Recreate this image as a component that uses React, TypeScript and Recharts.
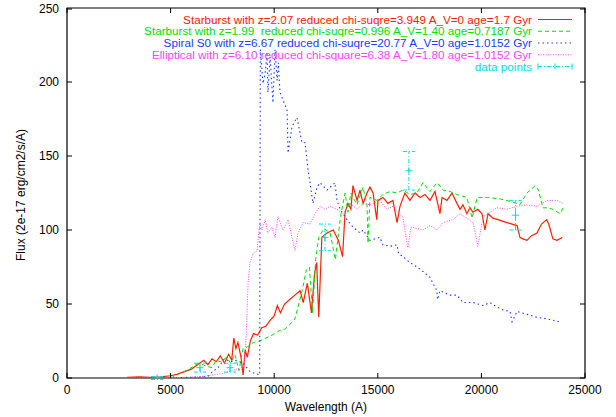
import React from 'react';
import { ComposedChart, Line, Scatter, XAxis, YAxis, ErrorBar, ReferenceArea, Legend } from 'recharts';

// ---------- data ----------
const X_TICKS = [0, 5000, 10000, 15000, 20000, 25000];
const Y_TICKS = [0, 50, 100, 150, 200, 250];

// [wavelength (A), flux]
const STARBURST_207: [number, number][] = [
  [2900, 0.5], [3500, 0.8], [4000, 0.5], [4500, 0.8], [5000, 1.5], [5300, 2.5], [5600, 4], [6000, 6], [6200, 8], [6400, 10],
  [6600, 12], [6800, 9], [7000, 13], [7200, 11], [7400, 15], [7600, 10], [7800, 16], [7950, 12], [8050, 27], [8150, 20],
  [8250, 24], [8400, 14], [8500, 2], [8600, 19], [8700, 14], [8850, 25], [9000, 30], [9200, 29], [9400, 34], [9600, 35],
  [9800, 39], [10000, 42], [10150, 49], [10300, 44], [10500, 50], [10750, 53], [11000, 56], [11250, 59], [11400, 51], [11600, 64],
  [11800, 44], [11950, 71], [12050, 78], [12150, 41], [12300, 95], [12550, 98], [12850, 100], [13100, 93], [13300, 82], [13420, 112],
  [13560, 118], [13700, 114], [13800, 130], [14000, 120], [14140, 127], [14290, 118], [14480, 125], [14620, 129], [14770, 125], [14950, 107],
  [15010, 120], [15250, 122], [15490, 118], [15730, 120], [15930, 105], [16070, 116], [16310, 125], [16550, 120], [16800, 125], [17040, 122],
  [17280, 124], [17520, 120], [17760, 126], [18000, 111], [18100, 122], [18340, 120], [18580, 125], [18820, 118], [18970, 114], [19110, 117],
  [19300, 111], [19450, 115], [19590, 112], [19830, 114], [20030, 111], [20170, 100], [20320, 111], [20560, 108], [20800, 107], [21230, 105],
  [21480, 104], [21720, 103], [21860, 95], [22000, 94], [22200, 93], [22400, 96], [22680, 98], [22900, 104], [23150, 107], [23250, 104],
  [23450, 94], [23650, 93], [23900, 95],
];

const STARBURST_199: [number, number][] = [
  [5000, 0], [5300, 2], [5600, 4], [5900, 6], [6200, 9], [6400, 10], [6700, 8], [7000, 7], [7200, 12], [7400, 11],
  [7700, 14], [7900, 10], [8100, 16], [8300, 5], [8500, 20], [8700, 21], [9000, 24], [9300, 25], [9600, 27], [9900, 29],
  [10250, 32], [10500, 33], [10750, 36], [11000, 40], [11150, 48], [11350, 59], [11550, 73], [11700, 75], [11850, 44], [12000, 80],
  [12150, 95], [12400, 101], [12700, 98], [12950, 80], [13200, 109], [13420, 125], [13560, 112], [13700, 125], [13995, 117], [14285, 129],
  [14480, 117], [14530, 91], [14620, 122], [14960, 120], [15250, 124], [15590, 126], [15930, 125], [16220, 127], [16550, 124], [16890, 125],
  [17180, 132], [17520, 126], [17860, 132], [18150, 127], [18500, 126], [18800, 124], [19050, 123], [19300, 122], [19550, 108], [19800, 122],
  [20300, 122], [20900, 121], [21500, 119], [21850, 117], [22200, 125], [22600, 130], [22750, 127], [22970, 115], [23200, 115], [23450, 114],
  [23800, 111], [23940, 115],
];

const SPIRAL_S0: [number, number][] = [
  [2900, 0], [4000, 0], [5000, 0], [6000, 0.5], [6500, 0.8], [6800, 1], [7000, 4], [7300, 7], [7600, 13], [7900, 11],
  [8200, 12], [8500, 10], [8850, 4], [9100, 3], [9300, 2], [9330, 222], [9400, 210], [9460, 199], [9560, 205], [9650, 220],
  [9700, 193], [9800, 217], [9940, 186], [10040, 222], [10140, 201], [10200, 213], [10280, 193], [10420, 188], [10620, 181], [10670, 152],
  [10860, 170], [11100, 176], [11340, 159], [11490, 159], [11630, 141], [11730, 132], [11870, 118], [12070, 129], [12210, 132], [12550, 127],
  [12790, 130], [12930, 132], [13030, 120], [13180, 114], [13510, 107], [13800, 102], [14140, 98], [14290, 100], [14620, 93], [15100, 95],
  [15250, 90], [15590, 89], [15930, 90], [16000, 84], [16220, 82], [16550, 78], [16890, 75], [17180, 72], [17520, 68], [17660, 64],
  [17850, 59], [17880, 53], [18000, 59], [18480, 56], [18820, 56], [19110, 51], [19590, 51], [20080, 49], [20410, 51], [20750, 48],
  [21040, 46], [21380, 45], [21480, 38], [21720, 45], [22200, 43], [22680, 41], [23170, 40], [23790, 38],
];

const ELLIPTICAL: [number, number][] = [
  [2900, 0], [4000, 0], [5000, 0.3], [6000, 0.5], [6500, 1], [7000, 2], [7500, 3], [8000, 5], [8400, 7], [8550, 8],
  [8650, 30], [8740, 64], [8830, 78], [8980, 84], [9170, 86], [9310, 105], [9410, 100], [9560, 107], [9700, 98], [9890, 102],
  [10040, 95], [10180, 109], [10420, 100], [10670, 107], [11000, 86], [11150, 98], [11390, 105], [11730, 104], [11970, 111], [12210, 116],
  [12450, 114], [12690, 116], [13030, 114], [13320, 111], [13660, 118], [14000, 114], [14290, 118], [14620, 117], [15100, 120], [15440, 114],
  [15730, 116], [15950, 112], [16200, 109], [16450, 88], [16600, 102], [16900, 101], [17180, 100], [17520, 103], [17860, 100], [18150, 105],
  [18630, 107], [18970, 111], [19300, 108], [19600, 105], [19830, 89], [20080, 109], [20410, 112], [20750, 115], [21230, 114], [21720, 116],
  [22200, 117], [22680, 116], [23170, 120], [23650, 120], [23940, 118],
];

// [wavelength, flux, error]
const DATA_POINTS: [number, number, number][] = [
  [4350, 0, 1], [6420, 7, 3], [7870, 7, 3], [12450, 95, 9], [16500, 140, 13], [21650, 110, 10],
];

const LEGEND_NAMES = [
  'Starburst with z=2.07 reduced chi-suqre=3.949 A_V=0 age=1.7 Gyr',
  'Starburst with z=1.99  reduced chi-suqre=0.996 A_V=1.40 age=0.7187 Gyr',
  'Spiral S0 with z=6.67 reduced chi-suqre=20.77 A_V=0 age=1.0152 Gyr',
  'Elliptical with z=6.10 reduced chi-square=6.38 A_V=1.80 age=1.0152 Gyr',
  'data points',
];

// ---------- styles ----------
const FONT = '"Liberation Sans", Arial, Helvetica, sans-serif';
const RED = '#ff2000';
const GREEN = '#00e000';
const BLUE = '#1a3cff';
const MAGENTA = '#ff44ff';
const CYAN = '#00e0e0';
const PLOT = { top: 8, bottom: 378, left: 67, right: 585 };

const toPts = (arr: [number, number][]) => arr.map(([wl, flux]) => ({ wl, flux }));
const redData = toPts(STARBURST_207);
const greenData = toPts(STARBURST_199);
const blueData = toPts(SPIRAL_S0);
const magentaData = toPts(ELLIPTICAL);
const pointsData = DATA_POINTS.map(([wl, flux, err]) => ({ wl, flux, err }));

const SERIES_STYLE = [
  { color: RED, dash: undefined as string | undefined },
  { color: GREEN, dash: '4 3' },
  { color: BLUE, dash: '1.5 3' },
  { color: MAGENTA, dash: '1 1.5' },
  { color: CYAN, dash: '4 2 1 2' },
];

const XTick = (props: any) => {
  const { x, payload } = props;
  return (
    <g>
      <line x1={x} x2={x} y1={PLOT.bottom} y2={PLOT.bottom - 5} stroke="#000" />
      <line x1={x} x2={x} y1={PLOT.top} y2={PLOT.top + 5} stroke="#000" />
      <text x={x} y={PLOT.bottom + 16} textAnchor="middle" fontSize={12} fill="#000" fontFamily={FONT}>
        {payload.value}
      </text>
    </g>
  );
};

const YTick = (props: any) => {
  const { y, payload } = props;
  return (
    <g>
      <line x1={PLOT.left} x2={PLOT.left + 5} y1={y} y2={y} stroke="#000" />
      <line x1={PLOT.right} x2={PLOT.right - 5} y1={y} y2={y} stroke="#000" />
      <text x={PLOT.left - 8} y={y} dy="0.35em" textAnchor="end" fontSize={12} fill="#000" fontFamily={FONT}>
        {payload.value}
      </text>
    </g>
  );
};

const XLabel = (props: any) => {
  const vb = props.viewBox || { x: PLOT.left, y: PLOT.bottom, width: PLOT.right - PLOT.left, height: 39 };
  return (
    <text x={vb.x + vb.width / 2} y={PLOT.bottom + 33} textAnchor="middle" fontSize={12} fill="#000" fontFamily={FONT}>
      Wavelength (A)
    </text>
  );
};

const YLabel = () => {
  const cx = 21;
  const cy = (PLOT.top + PLOT.bottom) / 2 + 2;
  return (
    <text
      x={cx}
      y={cy}
      dy="0.35em"
      transform={`rotate(-90 ${cx} ${cy})`}
      textAnchor="middle"
      fontSize={12}
      fill="#000"
      fontFamily={FONT}
    >
      Flux (2e-17 erg/cm2/s/A)
    </text>
  );
};

const PlusShape = (props: any) => {
  const { cx, cy } = props;
  if (cx == null || cy == null) return null;
  return (
    <g stroke={CYAN} strokeWidth={1}>
      <line x1={cx - 3.5} x2={cx + 3.5} y1={cy} y2={cy} />
      <line x1={cx} x2={cx} y1={cy - 3.5} y2={cy + 3.5} />
    </g>
  );
};

const LegendContent = () => {
  const textRight = 532;
  const x1 = 538;
  const x2 = 572;
  return (
    <svg width={616} height={80} style={{ display: 'block' }}>
      {LEGEND_NAMES.map((name, i) => {
        const cy = 19.5 + i * 11.75;
        const st = SERIES_STYLE[i];
        return (
          <g key={name}>
            <text
              x={textRight}
              y={cy}
              dy="0.35em"
              textAnchor="end"
              fontSize={11.7}
              fill={st.color}
              fontFamily={FONT}
              style={{ whiteSpace: 'pre' }}
            >
              {name}
            </text>
            <line x1={x1} x2={x2} y1={cy} y2={cy} stroke={st.color} strokeWidth={1} strokeDasharray={st.dash} />
            {i === 4 && (
              <g stroke={CYAN} strokeWidth={1}>
                <line x1={x1} x2={x1} y1={cy - 3} y2={cy + 3} />
                <line x1={x2} x2={x2} y1={cy - 3} y2={cy + 3} />
                <line x1={(x1 + x2) / 2} x2={(x1 + x2) / 2} y1={cy - 3} y2={cy + 3} />
              </g>
            )}
          </g>
        );
      })}
    </svg>
  );
};

export default function App() {
  return (
    <div style={{ position: 'absolute', left: 0, top: 0, width: 616, height: 417, background: '#fff' }}>
      <ComposedChart width={616} height={417} margin={{ top: 8, right: 31, bottom: 0, left: 0 }}>
        <XAxis
          type="number"
          dataKey="wl"
          domain={[0, 25000]}
          ticks={X_TICKS}
          allowDataOverflow
          height={39}
          tickSize={0}
          tickMargin={0}
          tickLine={false}
          axisLine={false}
          tick={<XTick />}
          label={<XLabel />}
        />
        <YAxis
          type="number"
          domain={[0, 250]}
          ticks={Y_TICKS}
          allowDataOverflow
          width={67}
          tickSize={0}
          tickMargin={0}
          tickLine={false}
          axisLine={false}
          tick={<YTick />}
          label={<YLabel />}
        />
        <ReferenceArea x1={0} x2={25000} y1={0} y2={250} fill="none" stroke="#000" strokeWidth={1.2} />
        <Line data={redData} dataKey="flux" type="linear" stroke={RED} strokeWidth={1.2} dot={false} activeDot={false} isAnimationActive={false} />
        <Line data={greenData} dataKey="flux" type="linear" stroke={GREEN} strokeWidth={1} strokeDasharray="4 3" dot={false} activeDot={false} isAnimationActive={false} />
        <Line data={blueData} dataKey="flux" type="linear" stroke={BLUE} strokeWidth={1.1} strokeDasharray="1.5 3" dot={false} activeDot={false} isAnimationActive={false} />
        <Line data={magentaData} dataKey="flux" type="linear" stroke={MAGENTA} strokeWidth={1} strokeDasharray="1 1.5" dot={false} activeDot={false} isAnimationActive={false} />
        <Scatter data={pointsData} dataKey="flux" shape={<PlusShape />} isAnimationActive={false}>
          <ErrorBar dataKey="err" direction="y" width={6} stroke={CYAN} strokeWidth={1} strokeDasharray="4 2 1 2" />
        </Scatter>
        <Legend
          layout="vertical"
          align="center"
          verticalAlign="middle"
          content={<LegendContent />}
          wrapperStyle={{ left: 0, top: 0, width: 616, height: 80, margin: 0, padding: 0 }}
        />
      </ComposedChart>
    </div>
  );
}
